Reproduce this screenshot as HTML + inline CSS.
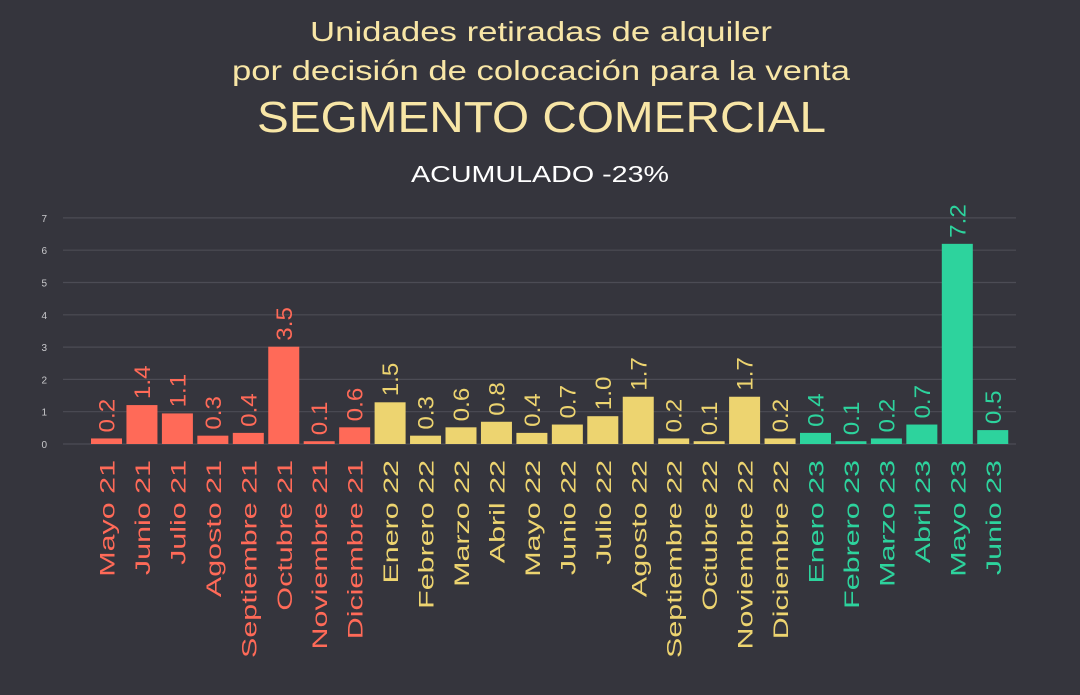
<!DOCTYPE html>
<html><head><meta charset="utf-8">
<style>
html,body{margin:0;padding:0;background:#35353d;}
svg{display:block;font-family:"Liberation Sans",sans-serif;}
</style></head>
<body>
<svg id="chart" width="1080" height="695" viewBox="0 0 1080 695">
<rect width="1080" height="695" fill="#35353d"/>
<text x="310" y="41" textLength="462" lengthAdjust="spacingAndGlyphs" font-size="28" fill="#f8e6a6">Unidades retiradas de alquiler</text>
<text x="232" y="80" textLength="618" lengthAdjust="spacingAndGlyphs" font-size="28" fill="#f8e6a6">por decisión de colocación para la venta</text>
<text x="257" y="132" textLength="569" lengthAdjust="spacingAndGlyphs" font-size="44" fill="#f8e6a6">SEGMENTO COMERCIAL</text>
<text x="411" y="182" textLength="258" lengthAdjust="spacingAndGlyphs" font-size="23" fill="#ffffff">ACUMULADO -23%</text>
<g id="grid"></g><g id="bars"></g>
</svg>
<script>
const months=["Mayo 21","Junio 21","Julio 21","Agosto 21","Septiembre 21","Octubre 21","Noviembre 21","Diciembre 21","Enero 22","Febrero 22","Marzo 22","Abril 22","Mayo 22","Junio 22","Julio 22","Agosto 22","Septiembre 22","Octubre 22","Noviembre 22","Diciembre 22","Enero 23","Febrero 23","Marzo 23","Abril 23","Mayo 23","Junio 23"];
const values=[0.2,1.4,1.1,0.3,0.4,3.5,0.1,0.6,1.5,0.3,0.6,0.8,0.4,0.7,1.0,1.7,0.2,0.1,1.7,0.2,0.4,0.1,0.2,0.7,7.2,0.5];
const groups=[0,0,0,0,0,0,0,0,1,1,1,1,1,1,1,1,1,1,1,1,2,2,2,2,2,2];
const yTicks=[0,1,2,3,4,5,6,7];
const colors=["#ff6a58","#edd470","#2dd39d"];
const NS="http://www.w3.org/2000/svg";
const y0=444, gridStep=32.3, barStep=27.8;
const x0=106.5, slot=35.45, bw=31;
function yGrid(v){return y0-v*gridStep;}
function yBar(v){return y0-v*barStep;}
function xC(i){return x0+i*slot;}
function mk(tag,attrs,parent){const e=document.createElementNS(NS,tag);for(const k in attrs)e.setAttribute(k,attrs[k]);parent.appendChild(e);return e;}
const grid=document.getElementById('grid'),bars=document.getElementById('bars');
yTicks.forEach(t=>{
 const l=mk('line',{x1:63,x2:1016,y1:yGrid(t),y2:yGrid(t),stroke:'#4c4c55','stroke-width':1.2},grid);
 
 
 const tx=mk('text',{x:47,y:yGrid(t)+4,'text-anchor':'end','font-size':10,fill:'#c9c9cc'},grid);
 tx.textContent=t;
 
 
});
months.forEach((m,i)=>{
 const v=values[i],c=colors[groups[i]],cx=xC(i),top=yBar(v);
 const r=mk('rect',{x:cx-bw/2,y:top,width:bw,height:y0-top,fill:c},bars);
 
 
 const vl=mk('text',{transform:`translate(${cx+8},${top-6}) rotate(-90) scale(1.1,1)`,'font-size':22,fill:c},bars);
 vl.textContent=v.toFixed(1);
 
 
 const xl=mk('text',{transform:`translate(${cx+8},460) rotate(-90) scale(1.45,1)`,'text-anchor':'end','font-size':21,fill:c},bars);
 xl.textContent=m;
 
 
});
</script>
</body></html>
